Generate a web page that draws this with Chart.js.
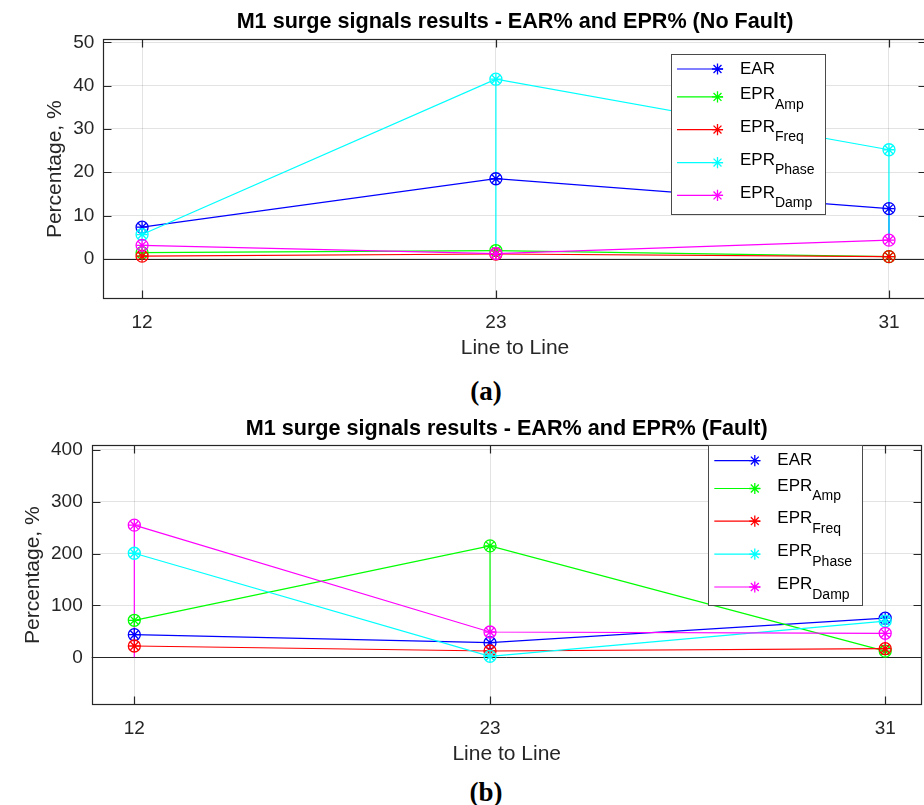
<!DOCTYPE html>
<html>
<head>
<meta charset="utf-8">
<script src="https://cdn.jsdelivr.net/npm/chart.js@4.4.1/dist/chart.umd.min.js"></script>
<style>
html,body{margin:0;padding:0;background:#fff;width:924px;height:805px;overflow:hidden;position:relative}
.wrap{position:absolute;left:0}
#w1{top:0;width:934px;height:362px}
#w2{top:410px;width:934px;height:362px}
.cap{position:absolute;font-family:"Liberation Serif","DejaVu Serif",serif;font-weight:bold;font-size:27px;color:#000;transform:translate(-50%,-50%);white-space:nowrap;line-height:1}
</style>
</head>
<body>
<div class="wrap" id="w1"><canvas id="c1" width="934" height="362"></canvas></div>
<div class="wrap" id="w2"><canvas id="c2" width="934" height="362"></canvas></div>
<div class="cap" style="left:486px;top:391px">(a)</div>
<div class="cap" style="left:486px;top:792px">(b)</div>
<script>
// ---------------- DATA ----------------
const categories = ['12', '23', '31'];

const seriesLabels = ['EAR', 'EPR', 'EPR', 'EPR', 'EPR'];
const seriesSubs   = ['', 'Amp', 'Freq', 'Phase', 'Damp'];

// (a) No Fault
const earNoFault   = [7.3, 18.5, 11.6];
const ampNoFault   = [1.4, 1.9, 0.5];
const freqNoFault  = [0.6, 1.1, 0.5];
const phaseNoFault = [5.6, 41.5, 25.2];
const dampNoFault  = [3.1, 1.2, 4.3];

// (b) Fault
const earFault   = [43.6, 28.2, 75.5];
const ampFault   = [71.4, 215, 12];
const freqFault  = [21.8, 12.2, 16.6];
const phaseFault = [200.8, 1.9, 70];
const dampFault  = [255, 48.8, 46.3];

const yTicksNoFault = [0, 10, 20, 30, 40, 50];
const yTicksFault   = [0, 100, 200, 300, 400];

// ---------------- STYLE / LAYOUT ----------------
const colors = ['#0000ff', '#00ff00', '#ff0000', '#00ffff', '#ff00ff'];
const xSlots = [1, 2, 3.111];           // horizontal placement of the three categories
const FONT = '"Liberation Sans", Arial, Helvetica, sans-serif';
const AXIS_COLOR = '#262626';

function drawStar(ctx, x, y, r, color, lw) {
  ctx.save();
  ctx.strokeStyle = color; ctx.lineWidth = lw || 1.2;
  ctx.beginPath();
  for (let k = 0; k < 4; k++) {
    const a = k * Math.PI / 4;
    ctx.moveTo(x - r * Math.cos(a), y - r * Math.sin(a));
    ctx.lineTo(x + r * Math.cos(a), y + r * Math.sin(a));
  }
  ctx.stroke();
  ctx.restore();
}

const mlPlugin = {
  id: 'ml',
  beforeDatasetsDraw(chart) {
    const {ctx, chartArea: a, scales: {y}} = chart;
    const y0 = Math.round(y.getPixelForValue(0)) + 0.5;
    ctx.save();
    ctx.strokeStyle = AXIS_COLOR; ctx.lineWidth = 1;
    ctx.beginPath(); ctx.moveTo(a.left, y0); ctx.lineTo(a.right, y0); ctx.stroke();
    ctx.restore();
  },
  afterDatasetDraw(chart, args) {
    const ds = chart.data.datasets[args.index];
    if (!ds.isSeries) return;
    const ctx = chart.ctx;
    args.meta.data.forEach(p => drawStar(ctx, p.x, p.y, 5.6, ds.borderColor, 1.3));
  },
  afterDraw(chart) {
    const {ctx, chartArea: a, scales: {x, y}} = chart;
    const L = Math.round(a.left) + 0.5, R = Math.round(a.right) - 0.5;
    const T = Math.round(a.top) + 0.5, B = Math.round(a.bottom) - 0.5;
    ctx.save();
    ctx.strokeStyle = AXIS_COLOR; ctx.lineWidth = 1.2;
    ctx.strokeRect(L, T, R - L, B - T);
    ctx.beginPath();
    const tl = 8;
    y.ticks.forEach(t => {
      const py = Math.round(y.getPixelForValue(t.value)) + 0.5;
      ctx.moveTo(L, py); ctx.lineTo(L + tl, py);
      ctx.moveTo(R, py); ctx.lineTo(R - tl, py);
    });
    x.ticks.forEach(t => {
      const px = Math.round(x.getPixelForValue(t.value)) + 0.5;
      ctx.moveTo(px, T); ctx.lineTo(px, T + tl);
      ctx.moveTo(px, B); ctx.lineTo(px, B - tl);
    });
    ctx.stroke();

    // legend
    const lg = chart.options.plugins.ml;
    ctx.fillStyle = '#fff';
    ctx.fillRect(lg.x, lg.y, lg.w, lg.h);
    ctx.strokeStyle = '#4a4a4a'; ctx.lineWidth = 1;
    ctx.strokeRect(Math.round(lg.x) + 0.5, Math.round(lg.y) + 0.5, lg.w, lg.h);
    const rows = [15.3, 43.2, 75.9, 108.9, 141.7];
    ctx.textBaseline = 'middle'; ctx.textAlign = 'left';
    seriesLabels.forEach((lab, i) => {
      const ry = lg.y + rows[i];
      ctx.strokeStyle = colors[i]; ctx.lineWidth = 1.2;
      ctx.beginPath(); ctx.moveTo(lg.x + 6, ry); ctx.lineTo(lg.x + 52, ry); ctx.stroke();
      drawStar(ctx, lg.x + 46.5, ry, 5.6, colors[i], 1.3);
      ctx.fillStyle = '#000';
      ctx.font = '17px ' + FONT;
      const tx = lg.x + 69;
      if (!seriesSubs[i]) {
        ctx.fillText(lab, tx, ry);
      } else {
        ctx.fillText(lab, tx, ry - 2.5);
        const w = ctx.measureText(lab).width;
        ctx.font = '14px ' + FONT;
        ctx.fillText(seriesSubs[i], tx + w, ry + 8);
      }
    });
    ctx.restore();
  }
};

function buildDatasets(vals, connectors) {
  const ds = vals.map((arr, i) => ({
    label: seriesLabels[i] + seriesSubs[i],
    isSeries: true,
    data: arr.map((v, k) => ({x: xSlots[k], y: v})),
    borderColor: colors[i],
    backgroundColor: colors[i],
    borderWidth: 1.2,
    pointStyle: 'circle',
    pointRadius: 6,
    pointHoverRadius: 6,
    pointBorderWidth: 1.3,
    pointBorderColor: colors[i],
    pointBackgroundColor: 'rgba(0,0,0,0)',
    order: 10 - i,
    tension: 0
  }));
  connectors.forEach(c => {
    ds.push({
      label: '',
      isSeries: false,
      data: [{x: xSlots[c.slot], y: vals[c.s][c.slot]},
             {x: xSlots[c.slot], y: c.to === null ? 0 : vals[c.to][c.slot]}],
      borderColor: colors[c.s],
      borderWidth: 1.2,
      pointRadius: 0,
      order: 20 - c.s
    });
  });
  return ds;
}

function makeChart(id, cfg) {
  return new Chart(document.getElementById(id), {
    type: 'line',
    data: {datasets: buildDatasets(cfg.vals, cfg.connectors)},
    plugins: [mlPlugin],
    options: {
      responsive: false,
      animation: false,
      events: [],
      layout: {padding: {left: 0, right: cfg.padRight, top: 0, bottom: 0}},
      plugins: {
        legend: {display: false},
        tooltip: {enabled: false},
        title: {
          display: true, text: cfg.title, fullSize: false,
          color: '#000', font: {family: FONT, size: 21.6, weight: 'bold', lineHeight: 1.2},
          padding: {top: cfg.titlePad[0], bottom: cfg.titlePad[1]}
        },
        ml: cfg.legend
      },
      scales: {
        x: {
          type: 'linear', min: cfg.xmin, max: cfg.xmax,
          afterBuildTicks: s => { s.ticks = xSlots.map(v => ({value: v})); },
          afterFit: s => { s.height = cfg.xH; },
          ticks: {autoSkip: false, maxRotation: 0, padding: 12, color: AXIS_COLOR,
                  font: {family: FONT, size: 19},
                  callback: (v, i) => categories[i]},
          grid: {color: 'rgba(0,0,0,0.11)', lineWidth: 1, drawTicks: false},
          border: {display: false},
          title: {display: true, text: 'Line to Line', color: AXIS_COLOR,
                  font: {family: FONT, size: 21, lineHeight: 1.2},
                  padding: {top: 0, bottom: cfg.xTitlePad}}
        },
        y: {
          type: 'linear', min: cfg.ymin, max: cfg.ymax,
          afterBuildTicks: s => { s.ticks = cfg.yTicks.map(v => ({value: v})); },
          afterFit: s => { s.width = cfg.yW; },
          ticks: {padding: 9, color: AXIS_COLOR, font: {family: FONT, size: 19},
                  callback: v => String(v)},
          grid: {color: 'rgba(0,0,0,0.11)', lineWidth: 1, drawTicks: false},
          border: {display: false},
          title: {display: true, text: 'Percentage, %', color: AXIS_COLOR,
                  font: {family: FONT, size: 21, lineHeight: 1.2},
                  padding: {top: cfg.yTitlePad, bottom: 0}}
        }
      }
    }
  });
}

makeChart('c1', {
  title: 'M1 surge signals results - EAR% and EPR% (No Fault)',
  vals: [earNoFault, ampNoFault, freqNoFault, phaseNoFault, dampNoFault],
  connectors: [{s: 3, slot: 1, to: 1}, {s: 3, slot: 2, to: 4}, {s: 0, slot: 2, to: 4}],
  padRight: 2, titlePad: [9.5, 4],
  xmin: 0.8904, xmax: 3.2176, ymin: -9.3, ymax: 50.7, yTicks: yTicksNoFault,
  xH: 63, xTitlePad: 1.4, yW: 103.3, yTitlePad: 43,
  legend: {x: 671, y: 53.7, w: 154, h: 160}
});

makeChart('c2', {
  title: 'M1 surge signals results - EAR% and EPR% (Fault)',
  vals: [earFault, ampFault, freqFault, phaseFault, dampFault],
  connectors: [{s: 4, slot: 0, to: null}, {s: 1, slot: 1, to: 4}, {s: 4, slot: 2, to: 2}],
  padRight: 12.3, titlePad: [5.7, 3.7],
  xmin: 0.8802, xmax: 3.2136, ymin: -92, ymax: 409, yTicks: yTicksFault,
  xH: 67, xTitlePad: 5.4, yW: 91.7, yTitlePad: 20.4,
  legend: {x: 708.3, y: 35.3, w: 154, h: 160}
});
</script>
</body>
</html>
